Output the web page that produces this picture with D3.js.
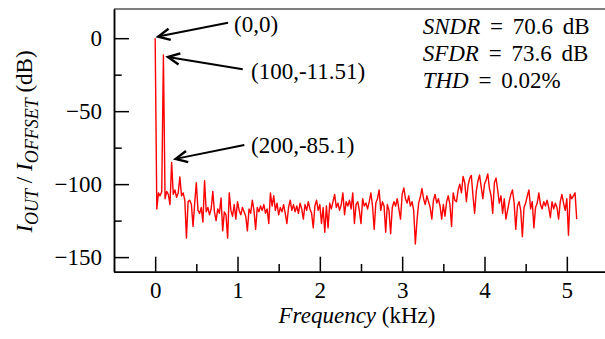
<!DOCTYPE html>
<html>
<head>
<meta charset="utf-8">
<script src="https://cdn.jsdelivr.net/npm/d3@7"></script>
<style>
  body { margin: 0; background: #fff; }
  svg { display: block; font-family: "Liberation Serif", "Times New Roman", serif; }
</style>
</head>
<body>
<div id="Spectrum"></div>
<script>
// FFT bins, one every 20 Hz starting at DC
var binStepHz = 20;
var amplitudeDb = [
  0, -117, -106, -108, -105, -11.51, -110, -105, -107, -114,
  -85.1, -107, -104, -109, -106, -95, -108, -106, -111, -137,
  -112, -111, -114, -129, -113, -99, -118, -120, -116, -126,
  -97.6, -119, -116, -121, -117, -105, -119, -125, -117, -120,
  -109.5, -132, -119, -121, -137, -106, -118, -122, -114, -124,
  // 1 kHz
  -112, -118, -121, -116, -119, -122, -132, -117, -120, -111,
  -118, -131, -116, -119, -115, -118, -114, -120, -117, -127,
  -106, -115, -108, -118, -113, -121, -116, -119, -114, -120,
  -127, -116, -111, -118, -114, -119, -115, -120, -113, -117,
  -124, -114, -118, -112, -117, -120, -130, -115, -111, -118,
  // 2 kHz
  -114, -127, -116, -133, -115, -130, -113, -117, -112, -107,
  -116, -113, -118, -114, -106, -121, -112, -115, -111, -117,
  -106, -127, -114, -112, -118, -127, -110, -115, -113, -117,
  -112, -106, -115, -131, -113, -110, -104, -118, -112, -115,
  -133, -114, -118, -134, -116, -112, -115, -110, -117, -124,
  // 3 kHz
  -107, -102.6, -110, -113, -108, -115, -112, -118, -141, -125,
  -113, -109, -103, -110, -114, -108, -112, -116, -124, -111,
  -107, -113, -110, -115, -124, -114, -122, -112, -108, -114,
  -129, -106, -111, -112, -104, -100, -106, -94.8, -99, -112,
  -101, -96, -94, -108, -120, -105, -98, -93.7, -102, -110,
  // 4 kHz
  -100, -97, -93, -103, -108, -120, -99, -95.8, -104, -113,
  -108, -120, -110, -124, -118, -112, -107, -104, -113, -131,
  -115, -112, -118, -136, -116, -113, -108, -104, -117, -112,
  -130, -116, -113, -106, -114, -117, -112, -115, -111, -116,
  -123, -112, -117, -113, -116, -124, -112, -107, -113, -118,
  // 5 kHz
  -110, -135, -107, -110, -108, -106, -124
];

var xMajorTicks = [0, 1, 2, 3, 4, 5];
var xMinorTicks = [0.5, 1.5, 2.5, 3.5, 4.5];
var yMajorTicks = [0, -50, -100, -150];
var yMinorTicks = [-25, -75, -125];

var peakFreqHz = [0, 100, 200];
var peakDb = [0, -11.51, -85.1];
var peakLabels = ["(0,0)", "(100,-11.51)", "(200,-85.1)"];

var statNames = ["SNDR", "SFDR", "THD"];
var statValues = ["70.6 dB", "73.6 dB", "0.02%"];

var data = amplitudeDb.map(function(v, i) { return {khz: i * binStepHz / 1000, db: v}; });

// set the dimensions and margins of the graph
var margin = {top: 9, right: 0, bottom: 67, left: 114},
    width = 494,
    height = 262.7;

var svg = d3.select("#Spectrum")
  .append("svg")
    .attr("width", 605)
    .attr("height", 339)
  .append("g")
    .attr("transform", "translate(" + margin.left + "," + margin.top + ")");

var x = d3.scaleLinear().domain([-0.5, 5.5]).range([0, width]);
var y = d3.scaleLinear().domain([-160, 20]).range([height, 0]);

// X axis, ticks pointing inward
svg.append("g")
  .attr("transform", "translate(0," + height + ")")
  .call(d3.axisBottom(x).tickValues(xMajorTicks).tickSizeInner(-15).tickSizeOuter(0).tickPadding(10).tickFormat(d3.format("d")));
svg.append("g")
  .attr("transform", "translate(0," + height + ")")
  .call(d3.axisBottom(x).tickValues(xMinorTicks).tickSizeInner(-7.7).tickSizeOuter(0).tickFormat(""));

// Y axis
svg.append("g")
  .call(d3.axisLeft(y).tickValues(yMajorTicks).tickSizeInner(-15).tickSizeOuter(0).tickPadding(12).tickFormat(d3.format("d")));
svg.append("g")
  .call(d3.axisLeft(y).tickValues(yMinorTicks).tickSizeInner(-7.7).tickSizeOuter(0).tickFormat(""));

svg.selectAll(".domain").attr("stroke", "#000").attr("stroke-width", 1.5);
svg.selectAll(".tick line").attr("stroke", "#000").attr("stroke-width", 1.5);
svg.selectAll(".tick text")
  .style("font-family", "'Liberation Serif', 'Times New Roman', serif")
  .style("font-size", "23px")
  .attr("fill", "#000");

// top frame line
svg.append("line")
  .attr("x1", 0).attr("x2", width)
  .attr("y1", 0).attr("y2", 0)
  .attr("stroke", "#000").attr("stroke-width", 1.2);

// spectrum
svg.append("path")
  .datum(data)
  .attr("fill", "none")
  .attr("stroke", "#ff0000")
  .attr("stroke-width", 1.4)
  .attr("stroke-linejoin", "round")
  .attr("d", d3.line().x(function(d) { return x(d.khz); }).y(function(d) { return y(d.db); }));

// annotations: label spot, arrow tail, and how far the tip sits from the peak
var labelAt = [[120, 23], [137, 70], [137, 144]];
var tailAt = [[114, 13.7], [128.7, 60.3], [130.3, 136]];
var tipOffset = [[3, -1.6], [4.5, 2], [4, -3.5]];

peakLabels.forEach(function(lab, i) {
  var tx = x(peakFreqHz[i] / 1000) + tipOffset[i][0],
      ty = y(peakDb[i]) + tipOffset[i][1],
      sx = tailAt[i][0], sy = tailAt[i][1];
  svg.append("line")
    .attr("x1", sx).attr("y1", sy).attr("x2", tx).attr("y2", ty)
    .attr("stroke", "#000").attr("stroke-width", 2);
  var a = Math.atan2(sy - ty, sx - tx), len = 13, spread = 0.45;
  svg.append("path")
    .attr("d", "M" + (tx + len * Math.cos(a + spread)) + "," + (ty + len * Math.sin(a + spread)) +
               "L" + tx + "," + ty +
               "L" + (tx + len * Math.cos(a - spread)) + "," + (ty + len * Math.sin(a - spread)))
    .attr("fill", "none").attr("stroke", "#000").attr("stroke-width", 2.4);
  svg.append("text")
    .attr("x", labelAt[i][0]).attr("y", labelAt[i][1])
    .attr("font-size", 23)
    .text(lab);
});

// figures of merit
statNames.forEach(function(n, i) {
  var t = svg.append("text")
    .attr("x", 308.7).attr("y", 25 + i * 27)
    .attr("font-size", 23)
    .style("word-spacing", "4px");
  t.append("tspan").attr("font-style", "italic").text(n);
  t.append("tspan").text(" = " + statValues[i]);
});

// axis titles
svg.append("text")
  .attr("x", width / 2 - 4).attr("y", 314)
  .attr("text-anchor", "middle")
  .attr("font-size", 23)
  .call(function(t) {
    t.append("tspan").attr("font-style", "italic").text("Frequency");
    t.append("tspan").text(" (kHz)");
  });

var yTitle = svg.append("text")
  .attr("transform", "translate(" + (32 - margin.left) + "," + (141.5 - margin.top) + ") rotate(-90)")
  .attr("text-anchor", "middle")
  .attr("font-size", 23);
yTitle.append("tspan").attr("font-style", "italic").text("I");
yTitle.append("tspan").attr("font-style", "italic").attr("font-size", 18).attr("dy", 6).text("OUT");
yTitle.append("tspan").attr("dy", -6).text(" / ");
yTitle.append("tspan").attr("font-style", "italic").text("I");
yTitle.append("tspan").attr("font-style", "italic").attr("font-size", 18).attr("dy", 6).text("OFFSET");
yTitle.append("tspan").attr("dy", -6).text(" (dB)");
</script>
</body>
</html>
